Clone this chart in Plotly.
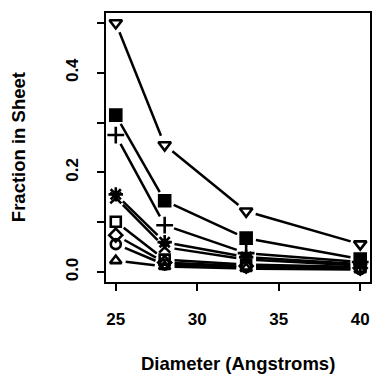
import numpy as np
import plotly.graph_objects as go

# Diameters (Angstroms) at which the sheet fraction was measured
diameters = [25, 28, 33, 40]

# Fraction in sheet for each series, one list per plotting symbol
frac_tri_down = [0.500, 0.255, 0.122, 0.056]
frac_sq_cross = [0.315, 0.143, 0.068, 0.026]
frac_plus = [0.275, 0.094, 0.038, 0.020]
frac_asterisk = [0.156, 0.060, 0.030, 0.016]
frac_cross = [0.149, 0.050, 0.025, 0.013]
frac_square = [0.101, 0.025, 0.015, 0.010]
frac_diamond = [0.074, 0.019, 0.012, 0.008]
frac_circle = [0.056, 0.015, 0.010, 0.006]
frac_tri_up = [0.023, 0.011, 0.007, 0.005]

series = [
    (frac_tri_down, "triangle-down-open", 11),
    (frac_sq_cross, "square", 11),
    (frac_plus, "cross-thin-open", 12),
    (frac_asterisk, "asterisk-open", 12),
    (frac_cross, "x-thin-open", 11),
    (frac_square, "square-open", 10),
    (frac_diamond, "diamond-open", 10),
    (frac_circle, "circle-open", 10),
    (frac_tri_up, "triangle-up-open", 10),
]

# Axis ticks
x_ticks = [25, 30, 35, 40]
y_ticks = [0.0, 0.1, 0.2, 0.3, 0.4, 0.5]
y_tick_text = ["0.0", "", "0.2", "", "0.4", ""]

W, H = 377, 380
M = dict(l=106, r=5, t=13, b=98)
x_range = [24.4, 40.6]
y_range = [-0.02, 0.52]
px_per_x = (W - M["l"] - M["r"]) / (x_range[1] - x_range[0])
px_per_y = (H - M["t"] - M["b"]) / (y_range[1] - y_range[0])
GAP = 10  # pixels left blank around each point, as in type="b" plots


def gapped_segments(xs, ys):
    """Segments between consecutive points, trimmed near each point."""
    sx, sy = [], []
    for i in range(len(xs) - 1):
        dx = (xs[i + 1] - xs[i]) * px_per_x
        dy = (ys[i + 1] - ys[i]) * px_per_y
        d = np.hypot(dx, dy)
        if d <= 2 * GAP:
            continue
        f = GAP / d
        sx += [xs[i] + f * (xs[i + 1] - xs[i]), xs[i + 1] - f * (xs[i + 1] - xs[i]), None]
        sy += [ys[i] + f * (ys[i + 1] - ys[i]), ys[i + 1] - f * (ys[i + 1] - ys[i]), None]
    return sx, sy


fig = go.Figure()
for ys, sym, size in series:
    sx, sy = gapped_segments(diameters, ys)
    fig.add_trace(go.Scatter(x=sx, y=sy, mode="lines",
                             line=dict(color="black", width=2.5),
                             hoverinfo="skip", showlegend=False))
for ys, sym, size in series:
    fig.add_trace(go.Scatter(x=diameters, y=ys, mode="markers",
                             marker=dict(symbol=sym, size=size, color="black",
                                         line=dict(color="black", width=2.6)),
                             showlegend=False))

font = dict(family="Liberation Sans, Arial, sans-serif", size=17, color="black", weight="bold")

fig.update_layout(
    width=W, height=H, margin=M,
    paper_bgcolor="white", plot_bgcolor="white",
    font=font,
    xaxis=dict(range=x_range, tickvals=x_ticks, ticks="outside", ticklen=7, tickwidth=2,
               tickcolor="black", showline=True, linewidth=2, linecolor="black",
               mirror=True, showgrid=False, zeroline=False, ticklabelstandoff=14,
               tickfont=font),
    yaxis=dict(range=y_range, tickvals=y_ticks, ticktext=y_tick_text, ticks="outside",
               ticklen=7, tickwidth=2, tickcolor="black", showline=True, linewidth=2,
               linecolor="black", mirror=True, showgrid=False, zeroline=False,
               tickangle=-90, ticklabelstandoff=12, tickfont=font),
    annotations=[
        dict(text="Diameter (Angstroms)", xref="paper", yref="paper", x=0.5,
             y=(M["b"] - 81) / (H - M["t"] - M["b"]) - M["b"] / (H - M["t"] - M["b"]),
             xanchor="center", yanchor="middle", showarrow=False,
             font=dict(font, size=18.5)),
        dict(text="Fraction in Sheet", xref="paper", yref="paper",
             x=(18 - M["l"]) / (W - M["l"] - M["r"]), y=0.5, textangle=-90,
             xanchor="center", yanchor="middle", showarrow=False,
             font=dict(font, size=18.5)),
    ],
)

fig.write_html("out.html")
